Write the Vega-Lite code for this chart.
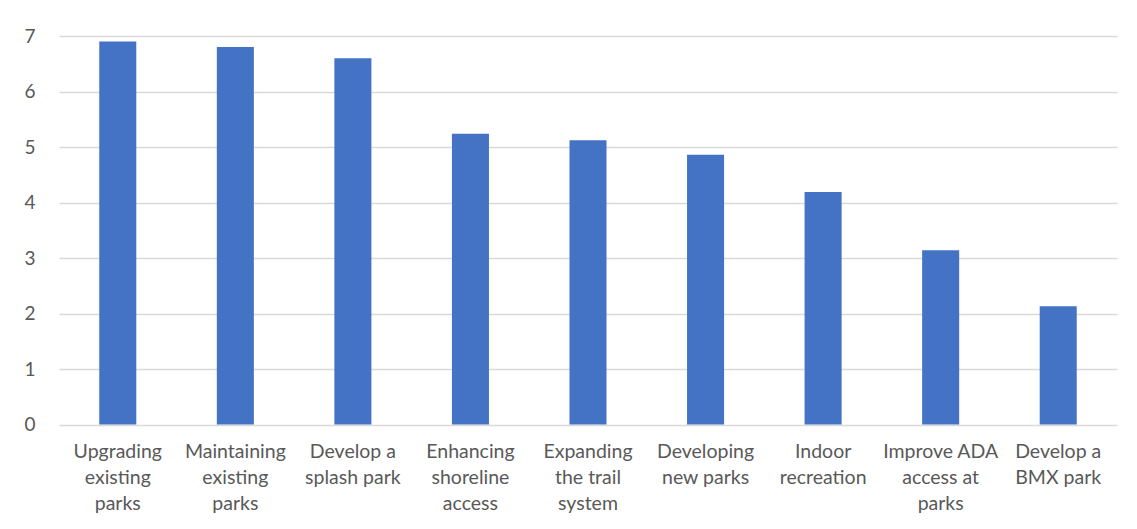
{
  "$schema": "https://vega.github.io/schema/vega-lite/v6.json",
  "autosize": {"type": "none"},
  "width": 1058,
  "height": 388.5,
  "padding": {"left": 59, "top": 36, "right": 20, "bottom": 104.5},
  "background": "white",
  "config": {
    "view": {"stroke": null},
    "font": "Lato"
  },
  "data": {
    "values": [
      {"item": "Upgrading\nexisting\nparks", "score": 6.9},
      {"item": "Maintaining\nexisting\nparks", "score": 6.8},
      {"item": "Develop a\nsplash park", "score": 6.6},
      {"item": "Enhancing\nshoreline\naccess", "score": 5.24},
      {"item": "Expanding\nthe trail\nsystem", "score": 5.12},
      {"item": "Developing\nnew parks", "score": 4.86},
      {"item": "Indoor\nrecreation", "score": 4.19},
      {"item": "Improve ADA\naccess at\nparks", "score": 3.14},
      {"item": "Develop a\nBMX park", "score": 2.13}
    ]
  },
  "mark": {"type": "bar", "color": "#4472C4"},
  "encoding": {
    "x": {
      "field": "item",
      "type": "nominal",
      "sort": null,
      "scale": {"paddingInner": 0.685, "paddingOuter": 0.3425},
      "axis": {
        "title": null,
        "labelAngle": 0,
        "labelExpr": "split(datum.label, '\\n')",
        "labelFont": "Lato",
        "labelFontSize": 19.5,
        "labelColor": "#595959",
        "labelLineHeight": 26,
        "labelPadding": 18,
        "labelBaseline": "top",
        "labelLimit": 0,
        "domain": false,
        "ticks": false,
        "grid": false
      }
    },
    "y": {
      "field": "score",
      "type": "quantitative",
      "scale": {"domain": [0, 7], "nice": false},
      "axis": {
        "title": null,
        "values": [0, 1, 2, 3, 4, 5, 6, 7],
        "labelFont": "Lato",
        "labelFontSize": 19,
        "labelColor": "#595959",
        "labelPadding": 24,
        "domain": false,
        "ticks": false,
        "grid": true,
        "gridColor": "#d9d9d9",
        "gridWidth": 1.3
      }
    }
  }
}
